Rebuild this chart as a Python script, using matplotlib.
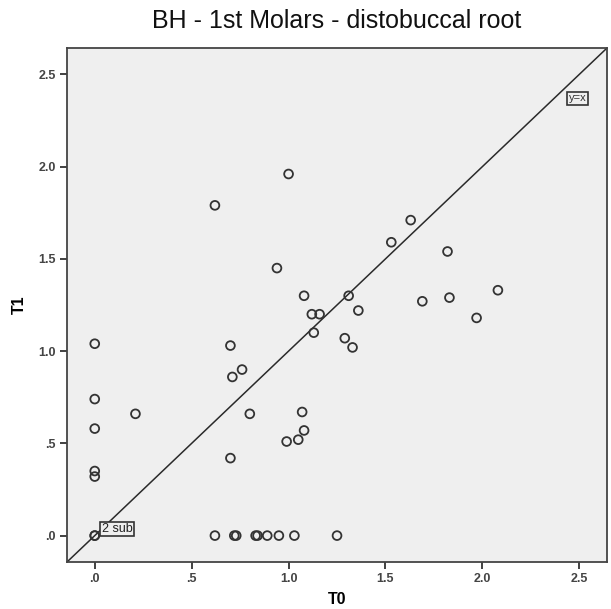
import numpy as np
import matplotlib
matplotlib.use('Agg')
import matplotlib.pyplot as plt

plt.rcParams['font.family'] = ['Liberation Sans', 'DejaVu Sans']

# T0 / T1 values
t0 = [0.0, 0.0, 0.0, 0.0, 0.0, 0.0, 0.0, 0.21,
      0.62, 0.72, 0.73, 0.83, 0.84, 0.89, 0.95, 1.03, 1.25,
      0.70, 0.80, 0.99, 1.05, 1.08, 1.07,
      0.70, 0.76, 0.71, 0.62, 1.00, 0.94,
      1.63, 1.53, 1.08, 1.31, 1.12, 1.16, 1.36, 1.13, 1.29, 1.33,
      1.69, 1.82, 1.83, 2.08, 1.97]
t1 = [0.0, 0.0, 1.04, 0.74, 0.58, 0.35, 0.32, 0.66,
      0.0, 0.0, 0.0, 0.0, 0.0, 0.0, 0.0, 0.0, 0.0,
      0.42, 0.66, 0.51, 0.52, 0.57, 0.67,
      1.03, 0.90, 0.86, 1.79, 1.96, 1.45,
      1.71, 1.59, 1.30, 1.30, 1.20, 1.20, 1.22, 1.10, 1.07, 1.02,
      1.27, 1.54, 1.29, 1.33, 1.18]

ticks = [0, 0.5, 1.0, 1.5, 2.0, 2.5]
tick_labels = ['.0', '.5', '1.0', '1.5', '2.0', '2.5']
lo, hi = -0.143, 2.643

fig = plt.figure(figsize=(6.11, 6.09), dpi=100)
ax = fig.add_axes([0.1097, 0.0772, 0.8838, 0.844])
ax.set_facecolor('#efefef')

ax.plot([lo, hi], [lo, hi], color='#2a2a2a', lw=1.1, zorder=2)
ax.scatter(t0, t1, s=40, facecolors='none', edgecolors='#333333',
           linewidths=1.3, zorder=3)

ax.text(2.49, 2.37, 'y=x', fontsize=8, color='#333333', ha='center', va='center',
        bbox=dict(boxstyle='square,pad=0.15', fc='#efefef', ec='#333333', lw=1.2))
ax.text(0.035, 0.035, '2 sub', fontsize=9, color='#222222', ha='left', va='center',
        bbox=dict(boxstyle='square,pad=0.1', fc='#efefef', ec='#333333', lw=1.2))

ax.set_xlim(lo, hi)
ax.set_ylim(lo, hi)
ax.set_xticks(ticks)
ax.set_xticklabels(tick_labels)
ax.set_yticks(ticks)
ax.set_yticklabels(tick_labels)
ax.tick_params(direction='out', length=5, width=1.3, color='#333333',
               labelsize=9, labelcolor='#444444', pad=3)
for lab in ax.get_xticklabels() + ax.get_yticklabels():
    lab.set_fontweight('bold')
for sp in ax.spines.values():
    sp.set_color('#444444')
    sp.set_linewidth(1.3)

ax.set_xlabel('T0', fontsize=11.5, fontweight='bold', labelpad=5)
ax.set_ylabel('T1', fontsize=11.5, fontweight='bold', labelpad=8)
fig.text(0.5517, 1 - 28 / 609, 'BH - 1st Molars - distobuccal root',
         fontsize=18, ha='center', va='baseline', color='#111111')

fig.savefig('out.png', dpi=100, facecolor='white')
